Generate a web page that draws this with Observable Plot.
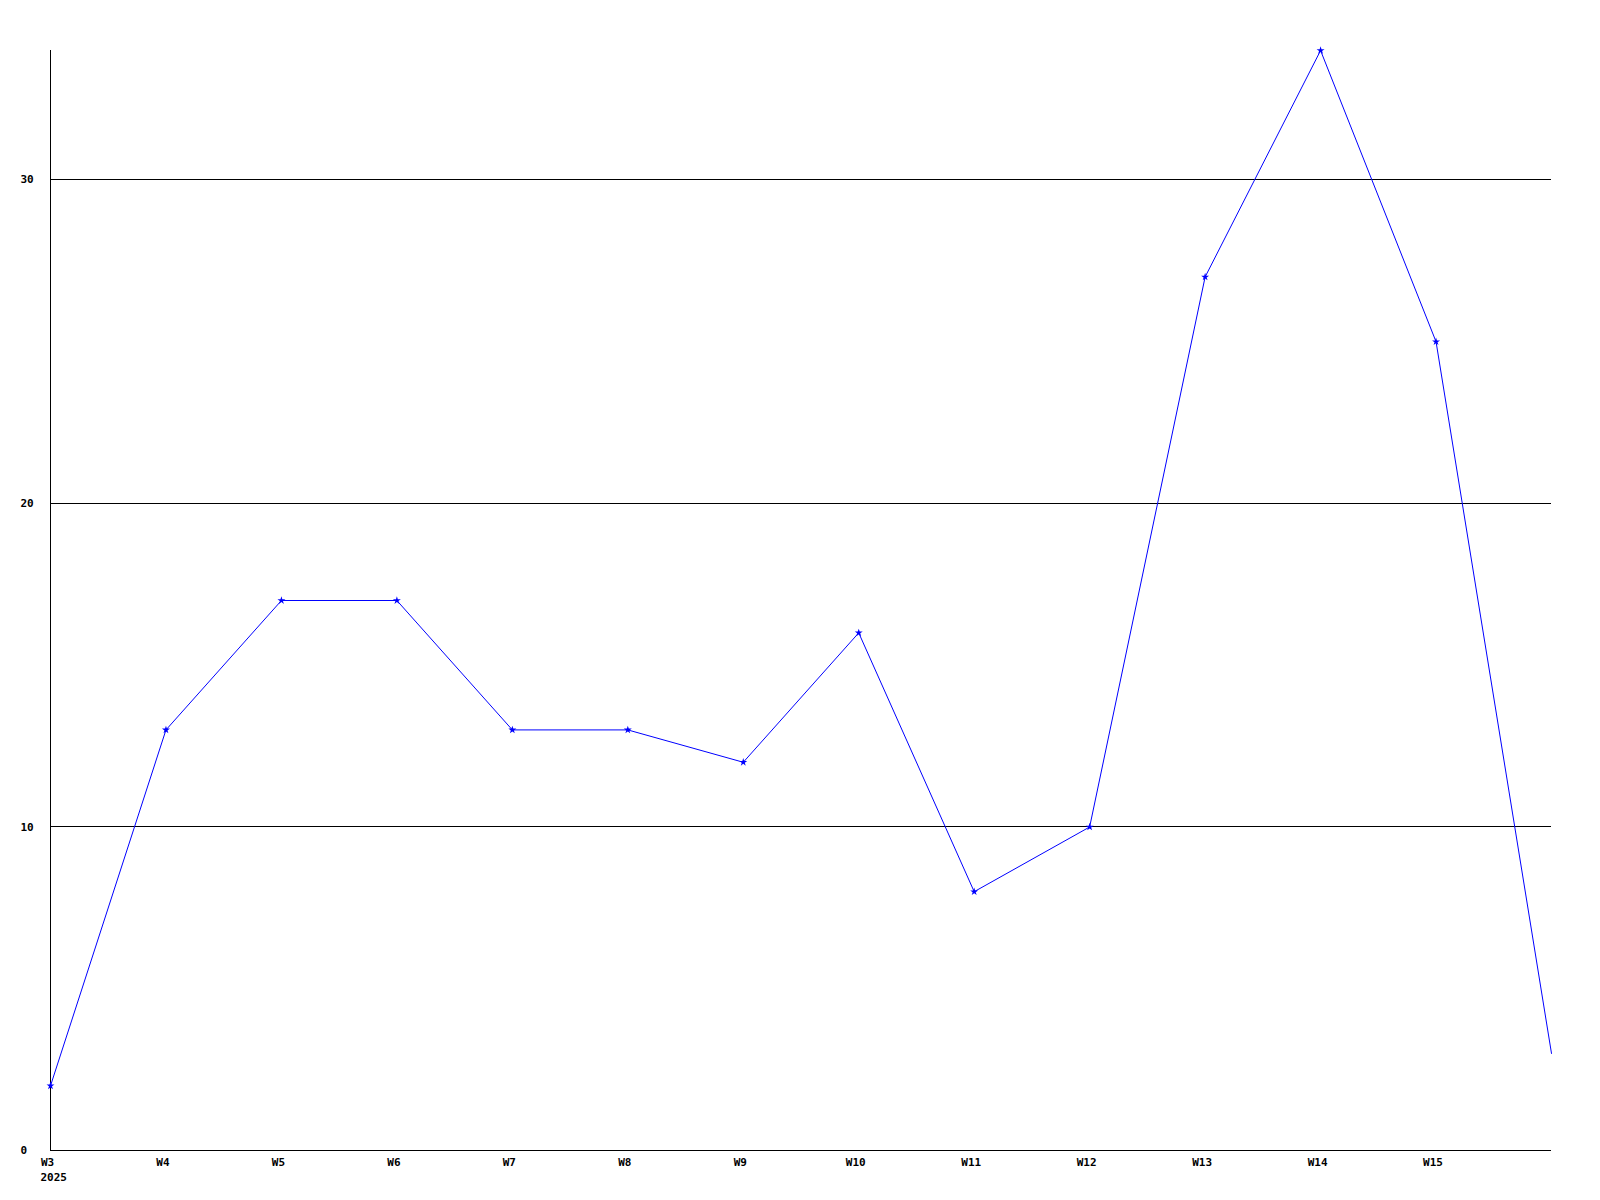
<!DOCTYPE html>
<html>
<head>
<meta charset="utf-8">
<script src="https://cdn.jsdelivr.net/npm/d3@7"></script>
<script src="https://cdn.jsdelivr.net/npm/@observablehq/plot@0.6"></script>
<style>
  html, body { margin: 0; padding: 0; background: #fff; }
</style>
</head>
<body>
<div id="chart"></div>
<script>
const weeks = ["W3","W4","W5","W6","W7","W8","W9","W10","W11","W12","W13","W14","W15","W16"];
const values = [2, 13, 17, 17, 13, 13, 12, 16, 8, 10, 27, 34, 25, 3];
const xTickLabels = ["W3","W4","W5","W6","W7","W8","W9","W10","W11","W12","W13","W14","W15"];
const yTicks = [0, 10, 20, 30];
const gridValues = [10, 20, 30];
const yearLabel = "2025";

const data = weeks.map((w, i) => ({week: w, value: values[i]}));
const marked = data.slice(0, data.length - 1);

const font = {fontFamily: "DejaVu Sans Mono", fontWeight: "bold", fontSize: 11, fill: "#000"};

const chart = Plot.plot({
  width: 1600,
  height: 1200,
  marginLeft: 50,
  marginRight: 49,
  marginTop: 50,
  marginBottom: 50,
  style: {background: "#fff"},
  x: {type: "point", domain: weeks, padding: 0, round: false, axis: null},
  y: {domain: [0, 34], axis: null},
  marks: [
    Plot.ruleY(gridValues, {stroke: "#000", strokeWidth: 1, shapeRendering: "crispEdges"}),
    Plot.ruleY([0], {stroke: "#000", strokeWidth: 1.5, shapeRendering: "crispEdges"}),
    Plot.ruleX([weeks[0]], {stroke: "#000", strokeWidth: 1.5, shapeRendering: "crispEdges"}),
    Plot.line(data, {x: "week", y: "value", stroke: "#0000ff", strokeWidth: 1}),
    Plot.dot(marked, {x: "week", y: "value", symbol: "star", r: 2.5, fill: "#0000ff"}),
    Plot.text(xTickLabels, {x: d => d, y: () => 0, dy: 12, dx: -3, textAnchor: "middle", ...font}),
    Plot.text([yearLabel], {x: () => weeks[0], y: () => 0, dy: 27, dx: -10, textAnchor: "start", ...font}),
    Plot.text(yTicks, {x: () => weeks[0], y: d => d, dx: -30, textAnchor: "start", ...font})
  ]
});
document.getElementById("chart").appendChild(chart);
</script>
</body>
</html>
